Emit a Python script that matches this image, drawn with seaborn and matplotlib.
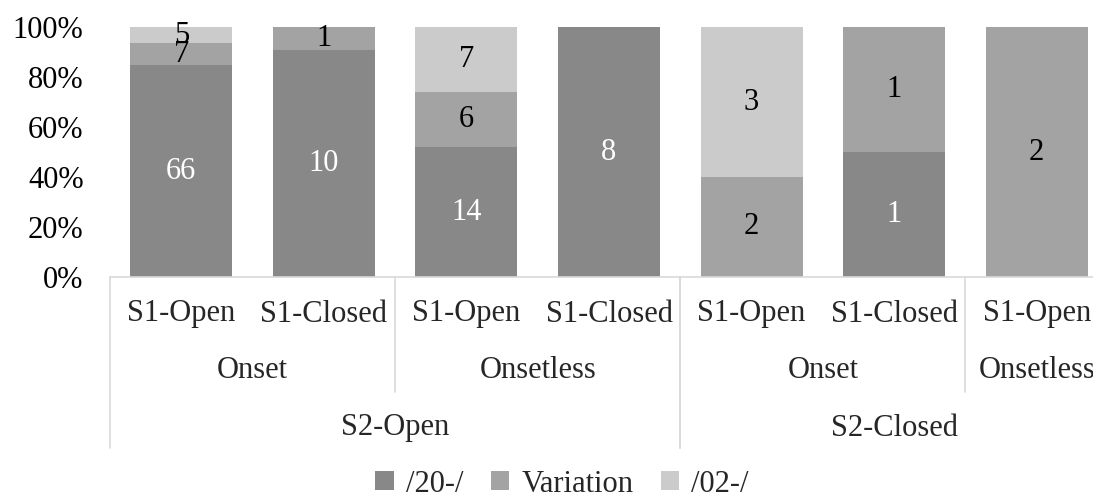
import matplotlib
matplotlib.use("Agg")
import matplotlib.pyplot as plt
import seaborn as sns
import numpy as np
import pandas as pd
from matplotlib.patches import Patch

# ---- data ----
s1_labels = ["S1-Open", "S1-Closed", "S1-Open", "S1-Closed", "S1-Open", "S1-Closed", "S1-Open"]
onset_labels = ["Onset", "Onsetless", "Onset", "Onsetless"]
onset_spans = [(0, 1), (2, 3), (4, 5), (6, 6)]
s2_labels = ["S2-Open", "S2-Closed"]
s2_spans = [(0, 3), (4, 6)]
series = ["/20-/", "Variation", "/02-/"]
v_20 = [66, 10, 14, 8, 0, 1, 0]
v_var = [7, 1, 6, 0, 2, 1, 2]
v_02 = [5, 0, 7, 0, 3, 0, 0]

colors = ["#888888", "#a3a3a3", "#cbcbcb"]
text_colors = ["white", "black", "black"]

sns.set_theme(style="white")
plt.rcParams["font.family"] = ["Liberation Serif", "DejaVu Serif"]
FS = 22

counts = np.array([v_20, v_var, v_02], dtype=float)
totals = counts.sum(axis=0)
pcts = counts / totals * 100

keys = [f"c{i}" for i in range(len(s1_labels))]
fig = plt.figure(figsize=(10.93, 4.97), dpi=100)
W, H = 1093, 497
ax = fig.add_axes([110 / W, (H - 277) / H, (1108 - 110) / W, 250 / H])

bottom = np.zeros(len(keys))
for si, name in enumerate(series):
    df = pd.DataFrame({"key": keys, "pct": pcts[si]})
    sns.barplot(data=df, x="key", y="pct", order=keys, color=colors[si],
                bottom=bottom, width=0.715, ax=ax, saturation=1, linewidth=0,
                errorbar=None)
    for i in range(len(keys)):
        if counts[si, i] > 0:
            ax.text(i, bottom[i] + pcts[si, i] / 2, f"{int(counts[si, i])}",
                    ha="center", va="center", color=text_colors[si], fontsize=FS)
    bottom = bottom + pcts[si]

ax.set_xlim(-0.5, len(keys) - 0.5)
ax.set_ylim(0, 100)
ax.set_yticks([0, 20, 40, 60, 80, 100])
ax.set_yticklabels([f"{t}%" for t in [0, 20, 40, 60, 80, 100]], fontsize=FS, color="black")
ax.tick_params(axis="y", length=0, pad=19)
ax.set_xticks([])
ax.set_xlabel("")
ax.set_ylabel("")
for sp in ["top", "right", "left"]:
    ax.spines[sp].set_visible(False)
ax.spines["bottom"].set_color("#d9d9d9")
ax.spines["bottom"].set_linewidth(1.2)

tr = ax.get_xaxis_transform()
y1, y2, y3 = -0.148, -0.376, -0.604
e2, e3 = -0.46, -0.684
for i, lab in enumerate(s1_labels):
    ax.text(i, y1, lab, transform=tr, ha="center", va="center", fontsize=FS)
for lab, (a, b) in zip(onset_labels, onset_spans):
    ax.text((a + b) / 2, y2, lab, transform=tr, ha="center", va="center", fontsize=FS)
    ax.plot([b + 0.5, b + 0.5], [0, e2], transform=tr, color="#d9d9d9", lw=1.2, clip_on=False)
for lab, (a, b) in zip(s2_labels, s2_spans):
    ax.text((a + b) / 2, y3, lab, transform=tr, ha="center", va="center", fontsize=FS)
    ax.plot([a - 0.5, a - 0.5], [0, e3], transform=tr, color="#d9d9d9", lw=1.2, clip_on=False)
    ax.plot([b + 0.5, b + 0.5], [0, e3], transform=tr, color="#d9d9d9", lw=1.2, clip_on=False)

handles = [Patch(facecolor=c, edgecolor="none") for c in colors]
fig.legend(handles, series, loc="center", bbox_to_anchor=(562 / W, 13 / H), ncol=3,
           frameon=False, fontsize=FS, handlelength=0.6, handleheight=0.6,
           handletextpad=0.4, columnspacing=0.9)

fig.savefig("out.png", dpi=100)
